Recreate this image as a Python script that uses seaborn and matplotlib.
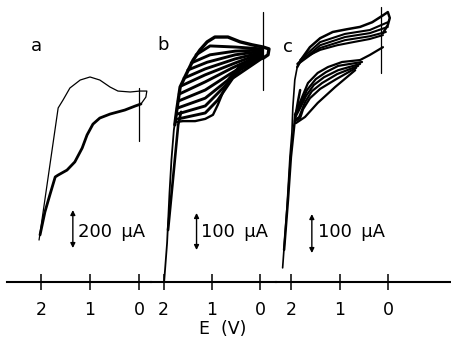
import matplotlib
matplotlib.use("Agg")
import matplotlib.pyplot as plt
import seaborn as sns

sns.set_theme(style="white")
plt.rcParams['font.family'] = ['DejaVu Sans']

# ---------------- data (E in V, I in uA) ----------------
# panel a
a_fwd_E = [2.04, 1.65, 1.55, 1.41, 1.20, 1.00, 0.80, 0.59, 0.43, 0.18, -0.02, -0.16, -0.14, -0.04]
a_fwd_I = [218, 913, 955, 1018, 1060, 1076, 1060, 1023, 1002, 997, 1002, 1002, 970, 934]
a_rev_E = [-0.04, 0.08, 0.29, 0.59, 0.80, 0.94, 1.06, 1.16, 1.31, 1.47, 1.65, 1.71, 1.82, 1.92, 2.02]
a_rev_I = [934, 923, 902, 881, 860, 828, 771, 702, 629, 586, 560, 550, 455, 366, 245]
a_mark_E = [0.0, 0.0]
a_mark_I = [1018, 739]

# panel b
b_stem1_E = [1.99, 1.93, 1.88, 1.84, 1.79, 1.73]
b_stem1_I = [1, 104, 239, 328, 409, 463]
b_stem2_E = [1.91, 1.83, 1.77, 1.70, 1.64]
b_stem2_I = [139, 247, 328, 423, 458]
b_top_E = [1.77, 1.73, 1.66, 1.54, 1.39, 1.25, 1.10, 0.94, 0.67, 0.42, 0.17, -0.06, -0.18, -0.16, -0.06]
b_top_I = [423, 463, 525, 558, 598, 625, 647, 660, 660, 647, 639, 633, 628, 612, 603]
b_low_E = [-0.06, 0.11, 0.32, 0.46, 0.57, 0.69, 0.77, 0.88, 0.98, 1.14, 1.35, 1.60, 1.73]
b_low_I = [603, 595, 585, 571, 558, 531, 512, 477, 450, 439, 433, 433, 431]
b_cycles_E = [
    [1.33, 1.04, 0.52, -0.04],
    [1.43, 1.04, 0.52, -0.04],
    [1.50, 1.10, 0.52, -0.04],
    [1.58, 1.14, 0.52, -0.04],
    [1.64, 1.14, 0.52, -0.04],
    [1.68, 1.14, 0.59, -0.04],
    [1.70, 1.14, 0.63, -0.04],
    [1.72, 1.14, 0.67, 0.42, -0.04],
    [1.72, 1.14, 0.73, 0.42, -0.04],
    [1.70, 1.14, 0.88, 0.57, -0.04],
]
b_cycles_I = [
    [612, 636, 633, 628],
    [590, 612, 622, 625],
    [571, 592, 612, 622],
    [549, 574, 601, 619],
    [528, 558, 590, 617],
    [506, 539, 576, 614],
    [487, 517, 560, 612],
    [468, 495, 544, 582, 609],
    [452, 474, 528, 571, 606],
    [439, 455, 490, 549, 603],
]
b_mark_E = [-0.05, -0.05]
b_mark_I = [728, 517]

# panel c
c_stem1_E = [2.17, 2.08, 2.02, 1.98, 1.96, 1.92, 1.87]
c_stem1_I = [35, 191, 319, 381, 447, 517, 550]
c_stem2_E = [2.14, 2.06, 2.00, 1.92, 1.85, 1.81]
c_stem2_I = [81, 209, 319, 414, 465, 491]
c_top_E = [1.87, 1.77, 1.61, 1.40, 1.14, 0.85, 0.58, 0.33, 0.13, 0.01, -0.03, 0.01, 0.11]
c_top_I = [550, 573, 601, 624, 640, 647, 653, 665, 681, 691, 676, 658, 637]
c_up_E = [
    [0.01, 0.38, 0.89, 1.40, 1.81],
    [0.01, 0.38, 0.89, 1.40, 1.81],
    [0.05, 0.38, 0.89, 1.40, 1.85],
    [0.11, 0.38, 0.72, 1.05, 1.40, 1.75, 1.87],
]
c_up_I = [
    [665, 645, 635, 614, 568],
    [653, 637, 627, 606, 563],
    [640, 629, 619, 599, 558],
    [632, 622, 614, 606, 594, 573, 558],
]
c_low_E = [
    [0.11, 0.38, 0.58, 0.95, 1.24, 1.45, 1.65, 1.77, 1.92],
    [0.54, 1.03, 1.28, 1.49, 1.67, 1.79, 1.92],
    [0.58, 1.03, 1.32, 1.53, 1.69, 1.81, 1.92],
    [0.62, 1.05, 1.36, 1.57, 1.71, 1.83, 1.92],
    [0.66, 1.07, 1.40, 1.61, 1.75, 1.81, 1.92],
    [0.68, 1.09, 1.45, 1.71, 1.90],
]
c_low_I = [
    [601, 581, 568, 563, 550, 535, 509, 473, 427],
    [563, 553, 537, 519, 491, 458, 422],
    [558, 542, 524, 504, 476, 445, 419],
    [553, 532, 509, 488, 460, 422, 414],
    [548, 519, 494, 470, 442, 419, 411],
    [542, 499, 458, 422, 406],
]
c_mark_E = [0.15, 0.15]
c_mark_I = [704, 535]

tick_pos = [2, 1, 0]
tick_lab = ["2", "1", "0"]
scale_vals = [200, 100, 100]
panel_labels = ["a", "b", "c"]

# ---------------- figure ----------------
W, H = 451, 342
fig = plt.figure(figsize=(W / 100, H / 100), dpi=100)
fig.patch.set_facecolor("white")

base_y = 281.5
def add_ax(x0, x1):
    return fig.add_axes([x0 / W, (H - base_y) / H, (x1 - x0) / W, base_y / H])

ax_a = add_ax(7, 151)
ax_b = add_ax(151, 276)
ax_c = add_ax(276, 451)

ax_a.set_xlim(2.694, -0.245); ax_a.set_ylim(0, 1481)
ax_b.set_xlim(2.263, -0.325); ax_b.set_ylim(0, 760)
ax_c.set_xlim(2.306, -1.287); ax_c.set_ylim(0, 722)

for ax in (ax_a, ax_b, ax_c):
    ax.set_facecolor("none")
    for s in ("left", "right", "top"):
        ax.spines[s].set_visible(False)
    ax.spines["bottom"].set_color("black")
    ax.spines["bottom"].set_linewidth(1.5)
    ax.set_xticks(tick_pos)
    ax.set_xticklabels(tick_lab)
    ax.set_yticks([])
    ax.tick_params(axis="x", bottom=True, direction="inout", length=11, width=1.1,
                   colors="black", labelsize=12.5, pad=8.5)
    ax.set_xlabel("")
    ax.set_ylabel("")

def line(ax, E, I, lw):
    sns.lineplot(x=E, y=I, sort=False, estimator=None, ax=ax, color="black",
                 linewidth=lw, legend=False)

# panel a
line(ax_a, a_fwd_E, a_fwd_I, 0.9)
line(ax_a, a_rev_E, a_rev_I, 2.0)
line(ax_a, a_mark_E, a_mark_I, 0.9)

# panel b
line(ax_b, b_stem1_E, b_stem1_I, 1.3)
line(ax_b, b_stem2_E, b_stem2_I, 1.9)
line(ax_b, b_top_E, b_top_I, 2.4)
line(ax_b, b_low_E, b_low_I, 1.7)
for E, I in zip(b_cycles_E, b_cycles_I):
    line(ax_b, E, I, 2.1)
line(ax_b, b_mark_E, b_mark_I, 0.9)

# panel c
line(ax_c, c_stem1_E, c_stem1_I, 1.2)
line(ax_c, c_stem2_E, c_stem2_I, 1.8)
line(ax_c, c_top_E, c_top_I, 1.8)
for E, I in zip(c_up_E, c_up_I):
    line(ax_c, E, I, 1.5)
for E, I in zip(c_low_E, c_low_I):
    line(ax_c, E, I, 1.6)
line(ax_c, c_mark_E, c_mark_I, 0.9)

# scale bars
bars = [(ax_a, 1.35, 176, 1.245, 260), (ax_b, 1.32, 85, 1.23, 134), (ax_c, 1.57, 73, 1.44, 127)]
for (ax, xe, y0, tx, ty), val in zip(bars, scale_vals):
    ax.annotate("", xy=(xe, y0 + val), xytext=(xe, y0),
                arrowprops=dict(arrowstyle="<|-|>", color="black", lw=1.0,
                                mutation_scale=7, shrinkA=0, shrinkB=0))
    ax.text(tx, ty, f"{val}\u2009 \u00b5A", ha="left", va="center", fontsize=13, color="black")

# panel labels
for (px, py), lab in zip([(36, 46), (163, 45), (288, 47)], panel_labels):
    fig.text(px / W, 1 - py / H, lab, ha="center", va="center", fontsize=13, color="black")

fig.text(223 / W, 1 - 329 / H, "E  (V)", ha="center", va="center", fontsize=12.5, color="black")

fig.savefig("out.png", dpi=100, facecolor="white")
